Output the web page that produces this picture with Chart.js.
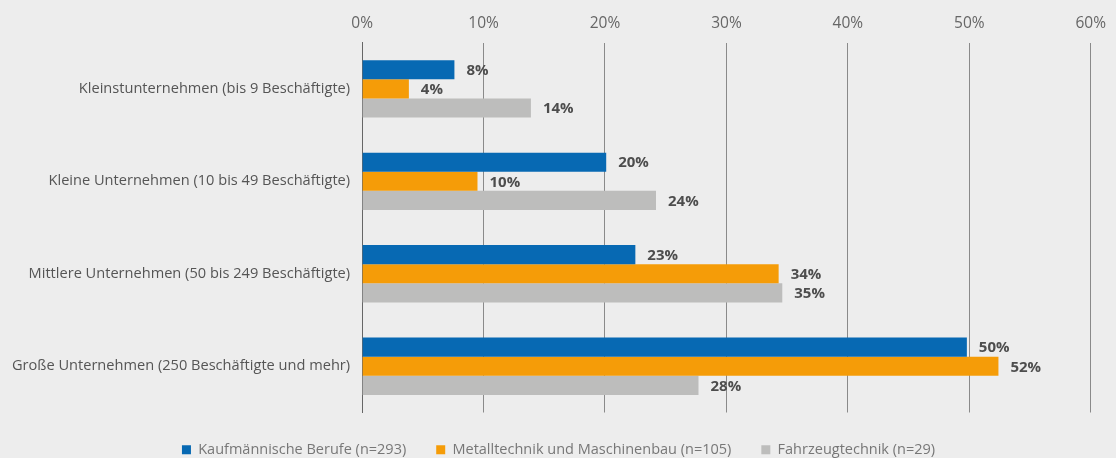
<!DOCTYPE html>
<html>
<head>
<meta charset="utf-8">
<script src="https://cdn.jsdelivr.net/npm/chart.js@4"></script>
<style>
  html, body { margin: 0; padding: 0; background: #ededed; }
  #wrap { width: 1116px; height: 458px; position: relative; }
</style>
</head>
<body>
<div id="wrap"><canvas id="c"></canvas></div>
<script>
const categories = [
  "Kleinstunternehmen (bis 9 Beschäftigte)",
  "Kleine Unternehmen (10 bis 49 Beschäftigte)",
  "Mittlere Unternehmen (50 bis 249 Beschäftigte)",
  "Große Unternehmen (250 Beschäftigte und mehr)"
];
const seriesNames = [
  "Kaufmännische Berufe (n=293)",
  "Metalltechnik und Maschinenbau (n=105)",
  "Fahrzeugtechnik (n=29)"
];
const kaufmaennisch = [7.6, 20.1, 22.5, 49.8];
const metalltechnik = [3.85, 9.5, 34.3, 52.4];
const fahrzeugtechnik = [13.9, 24.2, 34.6, 27.7];
const seriesColors = ["#0769b3", "#f59c08", "#bdbdbc"];

const valueLabels = {
  id: 'valueLabels',
  afterDatasetsDraw(chart) {
    const ctx = chart.ctx;
    ctx.save();
    ctx.font = "bold 15px 'Open Sans'";
    ctx.fillStyle = "#4d4d4d";
    ctx.textBaseline = "middle";
    ctx.textAlign = "left";
    chart.data.datasets.forEach((ds, i) => {
      const meta = chart.getDatasetMeta(i);
      meta.data.forEach((bar, j) => {
        ctx.fillText(Math.round(ds.data[j]) + "%", bar.x + 12, bar.y + 1);
      });
    });
    ctx.restore();
  }
};

new Chart(document.getElementById('c'), {
  type: 'bar',
  data: {
    labels: categories,
    datasets: [
      { label: seriesNames[0], data: kaufmaennisch, backgroundColor: seriesColors[0] },
      { label: seriesNames[1], data: metalltechnik, backgroundColor: seriesColors[1] },
      { label: seriesNames[2], data: fahrzeugtechnik, backgroundColor: seriesColors[2] }
    ]
  },
  options: {
    indexAxis: 'y',
    responsive: true,
    maintainAspectRatio: false,
    animation: false,
    layout: { padding: { left: 0, right: -1, top: 4, bottom: -9 } },
    datasets: { bar: { categoryPercentage: 0.62, barPercentage: 1.0 } },
    scales: {
      x: {
        position: 'top',
        min: 0, max: 60,
        ticks: {
          stepSize: 10,
          callback: v => v + '%',
          color: '#666',
          font: { family: "'Open Sans'", size: 15.5 },
          padding: 10
        },
        grid: { color: '#8a8a8a', lineWidth: 1, drawTicks: false },
        border: { display: false }
      },
      y: {
        ticks: {
          color: '#555',
          font: { family: "'Open Sans'", size: 14.6 },
          padding: 12
        },
        grid: { display: false, drawTicks: false },
        border: { display: true, color: '#666', width: 1 }
      }
    },
    plugins: {
      legend: {
        position: 'bottom',
        labels: {
          boxWidth: 9, boxHeight: 9,
          color: '#777',
          font: { family: "'Open Sans'", size: 14.5 },
          padding: 30
        }
      },
      tooltip: { enabled: false }
    }
  },
  plugins: [valueLabels]
});
</script>
</body>
</html>
